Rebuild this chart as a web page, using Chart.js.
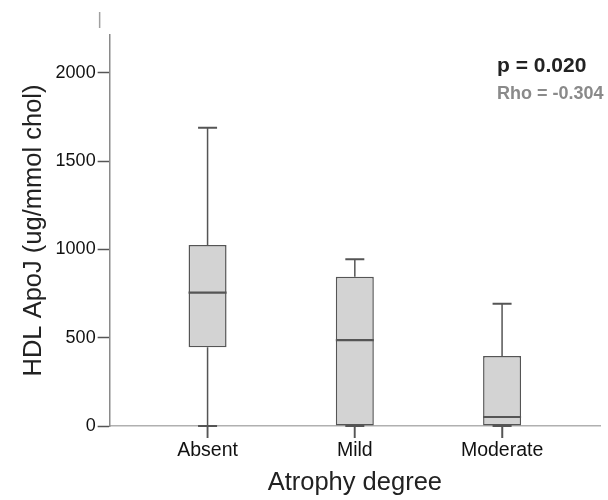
<!DOCTYPE html>
<html>
<head>
<meta charset="utf-8">
<script src="https://cdn.jsdelivr.net/npm/chart.js@4.4.1/dist/chart.umd.min.js"></script>
<style>
  html, body { margin: 0; padding: 0; background: #fff; }
  #wrap { width: 608px; height: 500px; position: relative; }
</style>
</head>
<body>
<div id="wrap"><canvas id="c"></canvas></div>
<script>
// ---- Data ----
const categories = ['Absent', 'Mild', 'Moderate'];
const positions  = [1, 2, 3];
const whiskerMin = [0, 0, 0];
const q1Values   = [446, 0, 0];
const medians    = [755, 486, 51];
const q3Values   = [1025, 846, 397];
const whiskerMax = [1690, 945, 693];
const yTicks     = [0, 500, 1000, 1500, 2000];
const statP      = 'p = 0.020';
const statRho    = 'Rho = -0.304';

const FONT = "'Liberation Sans', Arial, Helvetica, sans-serif";
const LINE = '#555555';

const boxData = positions.map((p, i) => ({ x: p, y: [q1Values[i], q3Values[i]] }));

const boxPlugin = {
  id: 'boxExtras',
  afterDatasetsDraw(chart) {
    const ctx = chart.ctx;
    const xs = chart.scales.x, ys = chart.scales.y;
    const meta = chart.getDatasetMeta(0);
    ctx.save();
    ctx.strokeStyle = LINE;
    ctx.lineCap = 'butt';
    positions.forEach((p, i) => {
      const x = xs.getPixelForValue(p);
      const w = meta.data[i].width;
      const cap = w / 2;
      ctx.lineWidth = 1.5;
      ctx.beginPath();
      ctx.moveTo(x, ys.getPixelForValue(q3Values[i]));
      ctx.lineTo(x, ys.getPixelForValue(whiskerMax[i]));
      ctx.moveTo(x, ys.getPixelForValue(q1Values[i]));
      ctx.lineTo(x, ys.getPixelForValue(whiskerMin[i]));
      ctx.stroke();
      ctx.lineWidth = 2;
      ctx.beginPath();
      const yMax = ys.getPixelForValue(whiskerMax[i]);
      const yMin = ys.getPixelForValue(whiskerMin[i]);
      ctx.moveTo(x - cap / 2, yMax); ctx.lineTo(x + cap / 2, yMax);
      ctx.moveTo(x - cap / 2, yMin); ctx.lineTo(x + cap / 2, yMin);
      ctx.stroke();
      ctx.lineWidth = 2.2;
      ctx.beginPath();
      const yMed = ys.getPixelForValue(medians[i]);
      ctx.moveTo(x - w / 2, yMed); ctx.lineTo(x + w / 2, yMed);
      ctx.stroke();
      // category tick mark below the axis
      ctx.lineWidth = 1.5;
      ctx.beginPath();
      ctx.moveTo(x, ys.bottom);
      ctx.lineTo(x, ys.bottom + 12);
      ctx.stroke();
    });
    const ca = chart.chartArea;
    ctx.textAlign = 'left';
    ctx.textBaseline = 'alphabetic';
    ctx.fillStyle = '#222222';
    ctx.font = 'bold 21px ' + FONT;
    ctx.fillText(statP, ca.right - 103, ca.top + 37);
    ctx.fillStyle = '#8a8a8a';
    ctx.font = 'bold 18px ' + FONT;
    ctx.fillText(statRho, ca.right - 103, ca.top + 64);
    ctx.strokeStyle = '#a0a0a0';
    ctx.lineWidth = 1.5;
    ctx.beginPath();
    ctx.moveTo(ca.left - 10, ca.top - 23);
    ctx.lineTo(ca.left - 10, ca.top - 7);
    ctx.stroke();
    ctx.restore();
  }
};

new Chart(document.getElementById('c'), {
  type: 'bar',
  data: {
    datasets: [{
      data: boxData,
      backgroundColor: '#d3d3d3',
      borderColor: LINE,
      borderWidth: 1.5,
      borderSkipped: false,
      barPercentage: 0.258,
      categoryPercentage: 1
    }]
  },
  options: {
    responsive: true,
    maintainAspectRatio: false,
    animation: false,
    events: [],
    layout: { padding: { left: 15, right: 8, top: 35, bottom: 0 } },
    plugins: { legend: { display: false }, tooltip: { enabled: false } },
    scales: {
      x: {
        type: 'linear',
        offset: false,
        min: 0.335,
        max: 3.665,
        afterBuildTicks: (axis) => { axis.ticks = positions.map(v => ({ value: v })); },
        ticks: {
          callback: (v) => categories[positions.indexOf(v)] || '',
          color: '#111',
          font: { family: FONT, size: 19.5 },
          padding: 1,
          maxRotation: 0
        },
        grid: { offset: false, drawOnChartArea: false, drawTicks: true, tickLength: 12, tickColor: LINE, tickWidth: 1.5 },
        border: { display: true, color: '#b0b0b0', width: 1.5 },
        title: { display: true, text: 'Atrophy degree', color: '#222', font: { family: FONT, size: 25.5 }, padding: { top: 4, bottom: 2 } }
      },
      y: {
        type: 'linear',
        min: 0,
        max: 2215,
        afterBuildTicks: (axis) => { axis.ticks = yTicks.map(v => ({ value: v })); },
        ticks: {
          callback: (v) => String(v),
          color: '#111',
          font: { family: FONT, size: 18 },
          padding: 2
        },
        grid: { drawOnChartArea: false, drawTicks: true, tickLength: 12, tickColor: LINE, tickWidth: 1.5 },
        border: { display: true, color: '#8a8a8a', width: 1.5 },
        title: { display: true, text: 'HDL ApoJ (ug/mmol chol)', color: '#222', font: { family: FONT, size: 25.5 }, padding: { top: 4, bottom: 4 } }
      }
    }
  },
  plugins: [boxPlugin]
});
</script>
</body>
</html>
